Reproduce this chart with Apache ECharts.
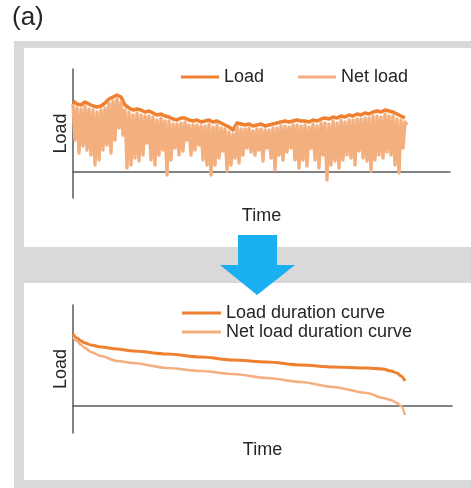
<!DOCTYPE html>
<html>
<head>
<meta charset="utf-8">
<script src="https://cdn.jsdelivr.net/npm/echarts@6/dist/echarts.min.js"></script>
<style>
  html, body { margin: 0; padding: 0; background: #fff; }
  #chart { width: 471px; height: 488px; }
</style>
</head>
<body>
<div id="chart"></div>
<script>
// top panel: load vs net load over time (one load sample every 2 time steps)
const loadSeries = [
  71, 68, 67, 70, 68, 66, 65, 66, 69, 73,
  75, 77, 75, 67, 64, 62, 63, 62, 60, 61,
  59, 57, 58, 56, 55, 53, 52, 54, 54, 52,
  51, 52, 50, 51, 52, 50, 51, 49, 47, 45,
  42, 49, 48, 47, 48, 46, 47, 48, 46, 47,
  48, 49, 50, 51, 50, 51, 52, 51, 51, 50,
  52, 51, 53, 54, 53, 55, 54, 56, 55, 57,
  56, 58, 57, 59, 58, 60, 61, 60, 62, 61,
  60, 58, 56, 54
]

// net load alternates between peaks (even steps) and dips (odd steps)
const netLoadPeaks = [
  68, 64, 63, 66, 63, 62, 60, 62, 64, 69,
  71, 73, 70, 62, 60, 57, 59, 57, 56, 56,
  55, 52, 54, 51, 51, 48, 48, 49, 50, 47,
  47, 47, 46, 46, 48, 45, 47, 44, 43, 40,
  38, 45, 43, 43, 44, 41, 43, 43, 42, 42,
  44, 44, 46, 46, 45, 47, 47, 46, 47, 45,
  48, 46, 49, 49, 48, 51, 49, 52, 50, 52,
  52, 53, 53, 54, 54, 56, 56, 55, 58, 56,
  56, 53, 52, 50
]
const netLoadDips = [
  32, 19, 26, 22, 17, 7, 12, 22, 27, 19,
  32, 44, 37, 4, 7, 14, 11, 17, 29, 12,
  7, 17, 22, -3, 12, 24, 17, 21, 32, 17,
  22, 27, 12, 7, -3, 7, 14, 21, 1, 7,
  14, 9, 17, 24, 20, 17, 22, 11, 24, 14,
  2, 17, 12, 20, 24, 12, 4, 12, 6, 24,
  12, 4, 17, -8, 7, 11, 4, 12, 17, 14,
  7, 21, 14, 11, 1, 12, 17, 14, 20, 17,
  7, -1, 24, 47
]

// bottom panel: duration curves (sorted load)
const durationHours = [0, 2, 4, 6, 9, 14, 22, 30, 47, 64, 80, 97, 114, 130, 147, 155, 159, 162, 164, 166]
const loadDuration = [72, 68, 65, 63, 61, 59, 57, 55, 52, 49, 46, 44, 41, 39, 38, 37, 35, 33, 30, 25]
const netLoadDuration = [69, 65, 61, 58, 54, 50, 45, 43, 38, 35, 32, 28, 24, 19, 13, 8, 6, 3, 0, -9]

const FONT = '"Liberation Sans", Arial, sans-serif'
const LOAD_COLOR = '#EE8030'
const NET_COLOR = '#F4AF7F'
const TEXT_COLOR = '#262626'

const netLoadPoints = []
netLoadPeaks.forEach((peak, i) => {
  netLoadPoints.push([2 * i, peak])
  netLoadPoints.push([2 * i + 1, netLoadDips[i]])
})

const chart = echarts.init(document.getElementById('chart'))

function timeAxis(gridIndex, max, gap) {
  return {
    type: 'value',
    gridIndex,
    min: 0,
    max,
    name: 'Time',
    nameLocation: 'middle',
    nameGap: gap,
    nameTextStyle: { fontSize: 18, color: TEXT_COLOR, fontFamily: FONT },
    axisLine: { lineStyle: { color: '#595959', width: 1.5 } },
    axisTick: { show: false },
    axisLabel: { show: false },
    splitLine: { show: false },
  }
}

function loadAxis(gridIndex, min, max) {
  return {
    type: 'value',
    gridIndex,
    min,
    max,
    name: 'Load',
    nameLocation: 'middle',
    nameGap: 3,
    nameTextStyle: { fontSize: 18, color: TEXT_COLOR, fontFamily: FONT },
    axisLine: { show: true, lineStyle: { color: '#595959', width: 1.5 } },
    axisTick: { show: false },
    axisLabel: { show: false },
    splitLine: { show: false },
  }
}

const legendText = { fontSize: 18, color: TEXT_COLOR, fontFamily: FONT }

chart.setOption({
  animation: false,
  textStyle: { fontFamily: FONT },
  graphic: [
    { type: 'rect', z: -10, shape: { x: 14, y: 41, width: 470, height: 460 }, style: { fill: '#D9D9D9' } },
    { type: 'rect', z: -9, shape: { x: 24, y: 48, width: 460, height: 199 }, style: { fill: '#fff' } },
    { type: 'rect', z: -9, shape: { x: 24, y: 283, width: 460, height: 197 }, style: { fill: '#fff' } },
    {
      type: 'polygon',
      z: 10,
      shape: { points: [[238, 235], [277, 235], [277, 265], [295, 265], [257, 295], [220, 265], [238, 265]] },
      style: { fill: '#1AAFF0' },
    },
    { type: 'text', left: 12, top: 5, style: { text: '(a)', fontSize: 26, fontFamily: FONT, fill: TEXT_COLOR } },
  ],
  legend: [
    {
      left: 181,
      top: 68,
      padding: 0,
      icon: 'rect',
      itemWidth: 38,
      itemHeight: 3,
      itemGap: 34,
      textStyle: legendText,
      data: ['Load', 'Net load'],
    },
    {
      orient: 'vertical',
      left: 182,
      top: 304,
      padding: 0,
      icon: 'rect',
      itemWidth: 39,
      itemHeight: 3,
      itemGap: 1,
      textStyle: legendText,
      data: ['Load duration curve', 'Net load duration curve'],
    },
  ],
  grid: [
    { left: 73, right: 21, top: 69, height: 129 },
    { left: 73, right: 19, top: 305, height: 128 },
  ],
  xAxis: [timeAxis(0, 188.5, 9), timeAxis(1, 189.5, 8)],
  yAxis: [loadAxis(0, -26, 103), loadAxis(1, -27, 101)],
  series: [
    {
      name: 'Load',
      type: 'line',
      xAxisIndex: 0,
      yAxisIndex: 0,
      data: loadSeries.map((v, i) => [2 * i, v]),
      symbol: 'none',
      silent: true,
      lineStyle: { color: LOAD_COLOR, width: 3.5, join: 'round' },
      itemStyle: { color: LOAD_COLOR },
    },
    {
      name: 'Net load',
      type: 'line',
      xAxisIndex: 0,
      yAxisIndex: 0,
      data: netLoadPoints,
      symbol: 'none',
      silent: true,
      lineStyle: { color: NET_COLOR, width: 3.4, join: 'round' },
      itemStyle: { color: NET_COLOR },
    },
    {
      name: 'Load duration curve',
      type: 'line',
      xAxisIndex: 1,
      yAxisIndex: 1,
      data: durationHours.map((h, i) => [h, loadDuration[i]]),
      symbol: 'none',
      silent: true,
      smooth: 0.3,
      smoothMonotone: 'x',
      lineStyle: { color: LOAD_COLOR, width: 3 },
      itemStyle: { color: LOAD_COLOR },
    },
    {
      name: 'Net load duration curve',
      type: 'line',
      xAxisIndex: 1,
      yAxisIndex: 1,
      data: durationHours.map((h, i) => [h, netLoadDuration[i]]),
      symbol: 'none',
      silent: true,
      smooth: 0.3,
      smoothMonotone: 'x',
      lineStyle: { color: NET_COLOR, width: 2.5 },
      itemStyle: { color: NET_COLOR },
    },
  ],
})
</script>
</body>
</html>
